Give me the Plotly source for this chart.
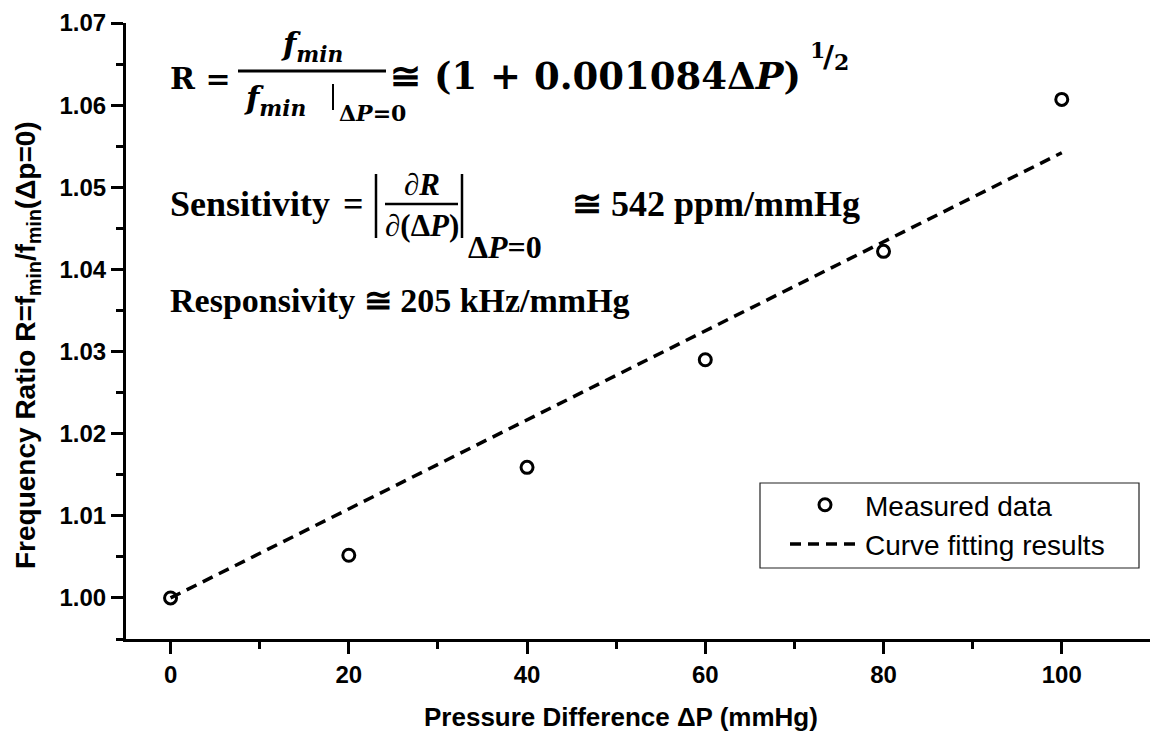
import plotly.graph_objects as go

# ---------------- data ----------------
pressure = [0, 20, 40, 60, 80, 100]
ratio = [1.0000, 1.0052, 1.0159, 1.0290, 1.0422, 1.0607]
fit_pressure = [0, 100]
fit_ratio = [1.0000, 1.0542]
x_tick_vals = [0, 20, 40, 60, 80, 100]
x_tick_text = ["0", "20", "40", "60", "80", "100"]
y_tick_vals = [1.00, 1.01, 1.02, 1.03, 1.04, 1.05, 1.06, 1.07]
y_tick_text = ["1.00", "1.01", "1.02", "1.03", "1.04", "1.05", "1.06", "1.07"]

# ---------------- layout helpers ----------------
W, H = 1152, 734
L, R, T, B = 126, 1150, 23, 639
SANS = "Liberation Sans, Arial, sans-serif"
SERIF = "Liberation Serif, Times New Roman, serif"
MATH = "DejaVu Serif, Cambria, serif"


def px(x):
    return (x - L) / (R - L)


def py(y):
    return (B - y) / (B - T)


fig = go.Figure()
fig.add_trace(go.Scatter(
    x=pressure, y=ratio, mode="markers", name="Measured data",
    marker=dict(symbol="circle-open", size=12, color="black",
                line=dict(width=3, color="black")),
))
fig.add_trace(go.Scatter(
    x=fit_pressure, y=fit_ratio, mode="lines", name="Curve fitting results",
    line=dict(color="black", width=3.5, dash="11px,7px"),
))

annotations = []
shapes = []


def txt(x, y, text, size, family=SERIF, xanchor="left", yanchor="middle", bold=True, angle=0):
    annotations.append(dict(
        x=px(x), y=py(y), xref="paper", yref="paper", text=text, showarrow=False,
        xanchor=xanchor, yanchor=yanchor, textangle=angle,
        font=dict(size=size, family=family, color="black", weight="bold" if bold else "normal"),
    ))


def seg(x0, y0, x1, y1, w=3, color="black"):
    shapes.append(dict(type="line", xref="paper", yref="paper",
                       x0=px(x0), y0=py(y0), x1=px(x1), y1=py(y1),
                       line=dict(color=color, width=w)))


# Equation 1
txt(168, 78, "R =", 30, MATH)
seg(238, 71, 386, 71, 3)
txt(312, 46, "<i>f</i><sub><i>min</i></sub>", 31, MATH, xanchor="center")
txt(242, 100, "<i>f</i><sub><i>min</i></sub>", 31, MATH)
seg(333, 84, 333, 110, 2)
txt(337, 113, "Δ<i>P</i>=0", 22, MATH)
txt(388, 76, "≅ (1 + 0.001084Δ<i>P</i>)", 37, MATH)
txt(808, 50, "1", 22, MATH)
txt(821, 56, "/", 30, MATH)
txt(832, 62, "2", 22, MATH)

# Equation 2
txt(168, 204, "Sensitivity", 36, SERIF)
txt(341, 204, "=", 36, SERIF)
seg(376, 174, 376, 238, 2.5)
seg(385, 204, 458, 204, 2.5)
txt(422, 184, "∂<i>R</i>", 31, SERIF, xanchor="center")
txt(422, 225, "∂(Δ<i>P</i>)", 31, SERIF, xanchor="center")
seg(462, 174, 462, 238, 2.5)
txt(466, 247, "Δ<i>P</i>=0", 32, SERIF)
txt(570, 204, "≅ 542 ppm/mmHg", 36, SERIF)

# Equation 3
txt(168, 300, "Responsivity ≅ 205 kHz/mmHg", 34, SERIF)

# Axis titles
txt(621, 717, "Pressure Difference ΔP (mmHg)", 26, SANS, xanchor="center")
txt(27, 345, "Frequency Ratio R=f<sub>min</sub>/f<sub>min</sub>(Δp=0)", 28, SANS,
    xanchor="center", angle=-90)

# Legend frame
shapes.append(dict(type="rect", xref="paper", yref="paper",
                   x0=px(760), y0=py(568), x1=px(1139), y1=py(483),
                   line=dict(color="#222222", width=1.2), fillcolor="rgba(0,0,0,0)"))

axis_common = dict(
    showline=True, linecolor="black", linewidth=3, mirror=False,
    ticks="outside", ticklen=12, tickwidth=3, tickcolor="black",
    showgrid=False, zeroline=False,
    tickfont=dict(family=SANS, size=24, color="black", weight="bold"),
)

fig.update_xaxes(
    range=[-5, 109.9], tickvals=x_tick_vals, ticktext=x_tick_text,
    minor=dict(dtick=10, tick0=0, ticklen=7, tickwidth=3, tickcolor="black", ticks="outside", showgrid=False),
    **axis_common,
)
fig.update_yaxes(
    range=[0.995, 1.07], tickvals=y_tick_vals, ticktext=y_tick_text,
    minor=dict(dtick=0.005, tick0=1.0, ticklen=7, tickwidth=3, tickcolor="black", ticks="outside", showgrid=False),
    **axis_common,
)

fig.update_layout(
    width=W, height=H,
    margin=dict(l=L, r=W - R, t=T, b=H - B),
    paper_bgcolor="white", plot_bgcolor="white",
    showlegend=True,
    legend=dict(
        x=px(785), y=py(480), xanchor="left", yanchor="top",
        borderwidth=0, bgcolor="rgba(0,0,0,0)",
        font=dict(family=SANS, size=28, color="black"),
        itemwidth=70, tracegroupgap=0,
    ),
    annotations=annotations,
    shapes=shapes,
)

fig.write_html("out.html")
